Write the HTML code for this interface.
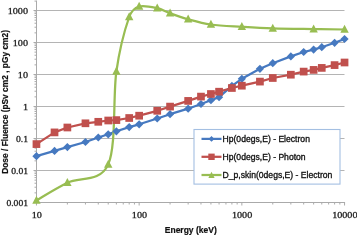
<!DOCTYPE html>
<html><head><meta charset="utf-8"><style>
html,body{margin:0;padding:0;background:#fff;}
svg{display:block;will-change:transform;font-family:"Liberation Sans",sans-serif;}
</style></head><body>
<svg width="357" height="235" viewBox="0 0 357 235">
<line x1="36" y1="10.50" x2="344.5" y2="10.50" stroke="#B4B4B4" stroke-width="1"/>
<line x1="36" y1="42.50" x2="344.5" y2="42.50" stroke="#B4B4B4" stroke-width="1"/>
<line x1="36" y1="74.50" x2="344.5" y2="74.50" stroke="#B4B4B4" stroke-width="1"/>
<line x1="36" y1="106.50" x2="344.5" y2="106.50" stroke="#B4B4B4" stroke-width="1"/>
<line x1="36" y1="138.50" x2="344.5" y2="138.50" stroke="#B4B4B4" stroke-width="1"/>
<line x1="36" y1="170.50" x2="344.5" y2="170.50" stroke="#B4B4B4" stroke-width="1"/>
<line x1="36.5" y1="0.6" x2="36.5" y2="202.50" stroke="#AAAAAA" stroke-width="1"/>
<line x1="33.50" y1="202.50" x2="36.5" y2="202.50" stroke="#AAAAAA" stroke-width="1"/>
<line x1="34.50" y1="192.87" x2="36.5" y2="192.87" stroke="#AAAAAA" stroke-width="1"/>
<line x1="34.50" y1="187.23" x2="36.5" y2="187.23" stroke="#AAAAAA" stroke-width="1"/>
<line x1="34.50" y1="183.23" x2="36.5" y2="183.23" stroke="#AAAAAA" stroke-width="1"/>
<line x1="34.50" y1="180.13" x2="36.5" y2="180.13" stroke="#AAAAAA" stroke-width="1"/>
<line x1="34.50" y1="177.60" x2="36.5" y2="177.60" stroke="#AAAAAA" stroke-width="1"/>
<line x1="34.50" y1="175.46" x2="36.5" y2="175.46" stroke="#AAAAAA" stroke-width="1"/>
<line x1="34.50" y1="173.60" x2="36.5" y2="173.60" stroke="#AAAAAA" stroke-width="1"/>
<line x1="34.50" y1="171.96" x2="36.5" y2="171.96" stroke="#AAAAAA" stroke-width="1"/>
<line x1="33.50" y1="170.50" x2="36.5" y2="170.50" stroke="#AAAAAA" stroke-width="1"/>
<line x1="34.50" y1="160.87" x2="36.5" y2="160.87" stroke="#AAAAAA" stroke-width="1"/>
<line x1="34.50" y1="155.23" x2="36.5" y2="155.23" stroke="#AAAAAA" stroke-width="1"/>
<line x1="34.50" y1="151.23" x2="36.5" y2="151.23" stroke="#AAAAAA" stroke-width="1"/>
<line x1="34.50" y1="148.13" x2="36.5" y2="148.13" stroke="#AAAAAA" stroke-width="1"/>
<line x1="34.50" y1="145.60" x2="36.5" y2="145.60" stroke="#AAAAAA" stroke-width="1"/>
<line x1="34.50" y1="143.46" x2="36.5" y2="143.46" stroke="#AAAAAA" stroke-width="1"/>
<line x1="34.50" y1="141.60" x2="36.5" y2="141.60" stroke="#AAAAAA" stroke-width="1"/>
<line x1="34.50" y1="139.96" x2="36.5" y2="139.96" stroke="#AAAAAA" stroke-width="1"/>
<line x1="33.50" y1="138.50" x2="36.5" y2="138.50" stroke="#AAAAAA" stroke-width="1"/>
<line x1="34.50" y1="128.87" x2="36.5" y2="128.87" stroke="#AAAAAA" stroke-width="1"/>
<line x1="34.50" y1="123.23" x2="36.5" y2="123.23" stroke="#AAAAAA" stroke-width="1"/>
<line x1="34.50" y1="119.23" x2="36.5" y2="119.23" stroke="#AAAAAA" stroke-width="1"/>
<line x1="34.50" y1="116.13" x2="36.5" y2="116.13" stroke="#AAAAAA" stroke-width="1"/>
<line x1="34.50" y1="113.60" x2="36.5" y2="113.60" stroke="#AAAAAA" stroke-width="1"/>
<line x1="34.50" y1="111.46" x2="36.5" y2="111.46" stroke="#AAAAAA" stroke-width="1"/>
<line x1="34.50" y1="109.60" x2="36.5" y2="109.60" stroke="#AAAAAA" stroke-width="1"/>
<line x1="34.50" y1="107.96" x2="36.5" y2="107.96" stroke="#AAAAAA" stroke-width="1"/>
<line x1="33.50" y1="106.50" x2="36.5" y2="106.50" stroke="#AAAAAA" stroke-width="1"/>
<line x1="34.50" y1="96.87" x2="36.5" y2="96.87" stroke="#AAAAAA" stroke-width="1"/>
<line x1="34.50" y1="91.23" x2="36.5" y2="91.23" stroke="#AAAAAA" stroke-width="1"/>
<line x1="34.50" y1="87.23" x2="36.5" y2="87.23" stroke="#AAAAAA" stroke-width="1"/>
<line x1="34.50" y1="84.13" x2="36.5" y2="84.13" stroke="#AAAAAA" stroke-width="1"/>
<line x1="34.50" y1="81.60" x2="36.5" y2="81.60" stroke="#AAAAAA" stroke-width="1"/>
<line x1="34.50" y1="79.46" x2="36.5" y2="79.46" stroke="#AAAAAA" stroke-width="1"/>
<line x1="34.50" y1="77.60" x2="36.5" y2="77.60" stroke="#AAAAAA" stroke-width="1"/>
<line x1="34.50" y1="75.96" x2="36.5" y2="75.96" stroke="#AAAAAA" stroke-width="1"/>
<line x1="33.50" y1="74.50" x2="36.5" y2="74.50" stroke="#AAAAAA" stroke-width="1"/>
<line x1="34.50" y1="64.87" x2="36.5" y2="64.87" stroke="#AAAAAA" stroke-width="1"/>
<line x1="34.50" y1="59.23" x2="36.5" y2="59.23" stroke="#AAAAAA" stroke-width="1"/>
<line x1="34.50" y1="55.23" x2="36.5" y2="55.23" stroke="#AAAAAA" stroke-width="1"/>
<line x1="34.50" y1="52.13" x2="36.5" y2="52.13" stroke="#AAAAAA" stroke-width="1"/>
<line x1="34.50" y1="49.60" x2="36.5" y2="49.60" stroke="#AAAAAA" stroke-width="1"/>
<line x1="34.50" y1="47.46" x2="36.5" y2="47.46" stroke="#AAAAAA" stroke-width="1"/>
<line x1="34.50" y1="45.60" x2="36.5" y2="45.60" stroke="#AAAAAA" stroke-width="1"/>
<line x1="34.50" y1="43.96" x2="36.5" y2="43.96" stroke="#AAAAAA" stroke-width="1"/>
<line x1="33.50" y1="42.50" x2="36.5" y2="42.50" stroke="#AAAAAA" stroke-width="1"/>
<line x1="34.50" y1="32.87" x2="36.5" y2="32.87" stroke="#AAAAAA" stroke-width="1"/>
<line x1="34.50" y1="27.23" x2="36.5" y2="27.23" stroke="#AAAAAA" stroke-width="1"/>
<line x1="34.50" y1="23.23" x2="36.5" y2="23.23" stroke="#AAAAAA" stroke-width="1"/>
<line x1="34.50" y1="20.13" x2="36.5" y2="20.13" stroke="#AAAAAA" stroke-width="1"/>
<line x1="34.50" y1="17.60" x2="36.5" y2="17.60" stroke="#AAAAAA" stroke-width="1"/>
<line x1="34.50" y1="15.46" x2="36.5" y2="15.46" stroke="#AAAAAA" stroke-width="1"/>
<line x1="34.50" y1="13.60" x2="36.5" y2="13.60" stroke="#AAAAAA" stroke-width="1"/>
<line x1="34.50" y1="11.96" x2="36.5" y2="11.96" stroke="#AAAAAA" stroke-width="1"/>
<line x1="33.50" y1="10.50" x2="36.5" y2="10.50" stroke="#AAAAAA" stroke-width="1"/>
<line x1="34.50" y1="1.10" x2="36.5" y2="1.10" stroke="#AAAAAA" stroke-width="1"/>
<line x1="36" y1="202.50" x2="345.05" y2="202.50" stroke="#AAAAAA" stroke-width="1"/>
<line x1="36.45" y1="202.5" x2="36.45" y2="205.5" stroke="#AAAAAA" stroke-width="1"/>
<line x1="67.37" y1="202.5" x2="67.37" y2="204.5" stroke="#AAAAAA" stroke-width="1"/>
<line x1="85.45" y1="202.5" x2="85.45" y2="204.5" stroke="#AAAAAA" stroke-width="1"/>
<line x1="98.28" y1="202.5" x2="98.28" y2="204.5" stroke="#AAAAAA" stroke-width="1"/>
<line x1="108.23" y1="202.5" x2="108.23" y2="204.5" stroke="#AAAAAA" stroke-width="1"/>
<line x1="116.37" y1="202.5" x2="116.37" y2="204.5" stroke="#AAAAAA" stroke-width="1"/>
<line x1="123.24" y1="202.5" x2="123.24" y2="204.5" stroke="#AAAAAA" stroke-width="1"/>
<line x1="129.20" y1="202.5" x2="129.20" y2="204.5" stroke="#AAAAAA" stroke-width="1"/>
<line x1="134.45" y1="202.5" x2="134.45" y2="204.5" stroke="#AAAAAA" stroke-width="1"/>
<line x1="139.15" y1="202.5" x2="139.15" y2="205.5" stroke="#AAAAAA" stroke-width="1"/>
<line x1="170.07" y1="202.5" x2="170.07" y2="204.5" stroke="#AAAAAA" stroke-width="1"/>
<line x1="188.15" y1="202.5" x2="188.15" y2="204.5" stroke="#AAAAAA" stroke-width="1"/>
<line x1="200.98" y1="202.5" x2="200.98" y2="204.5" stroke="#AAAAAA" stroke-width="1"/>
<line x1="210.93" y1="202.5" x2="210.93" y2="204.5" stroke="#AAAAAA" stroke-width="1"/>
<line x1="219.07" y1="202.5" x2="219.07" y2="204.5" stroke="#AAAAAA" stroke-width="1"/>
<line x1="225.94" y1="202.5" x2="225.94" y2="204.5" stroke="#AAAAAA" stroke-width="1"/>
<line x1="231.90" y1="202.5" x2="231.90" y2="204.5" stroke="#AAAAAA" stroke-width="1"/>
<line x1="237.15" y1="202.5" x2="237.15" y2="204.5" stroke="#AAAAAA" stroke-width="1"/>
<line x1="241.85" y1="202.5" x2="241.85" y2="205.5" stroke="#AAAAAA" stroke-width="1"/>
<line x1="272.77" y1="202.5" x2="272.77" y2="204.5" stroke="#AAAAAA" stroke-width="1"/>
<line x1="290.85" y1="202.5" x2="290.85" y2="204.5" stroke="#AAAAAA" stroke-width="1"/>
<line x1="303.68" y1="202.5" x2="303.68" y2="204.5" stroke="#AAAAAA" stroke-width="1"/>
<line x1="313.63" y1="202.5" x2="313.63" y2="204.5" stroke="#AAAAAA" stroke-width="1"/>
<line x1="321.77" y1="202.5" x2="321.77" y2="204.5" stroke="#AAAAAA" stroke-width="1"/>
<line x1="328.64" y1="202.5" x2="328.64" y2="204.5" stroke="#AAAAAA" stroke-width="1"/>
<line x1="334.60" y1="202.5" x2="334.60" y2="204.5" stroke="#AAAAAA" stroke-width="1"/>
<line x1="339.85" y1="202.5" x2="339.85" y2="204.5" stroke="#AAAAAA" stroke-width="1"/>
<line x1="344.55" y1="202.5" x2="344.55" y2="205.5" stroke="#AAAAAA" stroke-width="1"/>
<path d="M36.45,156.20 L54.53,150.90 L67.37,147.10 L85.45,142.00 L98.28,137.50 L108.23,134.30 L116.37,131.30 L129.20,127.10 L139.15,124.30 L157.23,118.50 L170.07,114.20 L188.15,108.70 L200.98,104.00 L210.93,100.20 L219.07,97.20 L231.90,85.90 L241.85,78.80 L259.93,68.80 L272.77,63.20 L290.85,56.40 L303.68,52.00 L313.63,49.60 L321.77,47.20 L334.60,42.80 L344.55,39.00" fill="none" stroke="#4679C0" stroke-width="2.25" stroke-linejoin="round" stroke-linecap="round"/>
<path d="M36.45,144.10 L54.53,132.40 L67.37,127.50 L85.45,123.30 L98.28,121.80 L108.23,120.50 L116.37,120.10 L129.20,118.00 L139.15,115.70 L157.23,110.80 L170.07,106.60 L188.15,100.90 L200.98,96.60 L210.93,94.00 L219.07,91.70 L231.90,88.00 L241.85,85.70 L259.93,81.60 L272.77,78.00 L290.85,74.70 L303.68,71.60 L313.63,69.90 L321.77,67.90 L334.60,65.10 L344.55,62.50" fill="none" stroke="#C0504D" stroke-width="2.25" stroke-linejoin="round" stroke-linecap="round"/>
<path d="M36.45,200.40 C41.60,197.47 55.40,188.80 67.37,182.80 C79.33,176.80 100.07,182.95 108.23,164.40 C116.40,145.85 112.87,96.07 116.37,71.50 C119.86,46.93 125.40,27.83 129.20,17.00 C131.59,10.17 134.48,7.97 139.15,6.50 C143.82,5.03 152.08,7.07 157.23,8.20 C162.39,9.33 164.91,11.45 170.07,13.30 C175.22,15.15 181.34,17.43 188.15,19.30 C194.96,21.17 201.98,23.25 210.93,24.50 C219.88,25.75 231.54,26.15 241.85,26.80 C252.16,27.45 260.80,28.02 272.77,28.40 C284.73,28.78 301.67,28.92 313.63,29.10 C325.60,29.28 339.40,29.43 344.55,29.50" fill="none" stroke="#98BD52" stroke-width="2.25" stroke-linejoin="round" stroke-linecap="round"/>
<path d="M36.45,152.10 L40.55,156.20 L36.45,160.30 L32.35,156.20Z" fill="#4679C0"/>
<path d="M54.53,146.80 L58.63,150.90 L54.53,155.00 L50.43,150.90Z" fill="#4679C0"/>
<path d="M67.37,143.00 L71.47,147.10 L67.37,151.20 L63.27,147.10Z" fill="#4679C0"/>
<path d="M85.45,137.90 L89.55,142.00 L85.45,146.10 L81.35,142.00Z" fill="#4679C0"/>
<path d="M98.28,133.40 L102.38,137.50 L98.28,141.60 L94.18,137.50Z" fill="#4679C0"/>
<path d="M108.23,130.20 L112.33,134.30 L108.23,138.40 L104.13,134.30Z" fill="#4679C0"/>
<path d="M116.37,127.20 L120.47,131.30 L116.37,135.40 L112.27,131.30Z" fill="#4679C0"/>
<path d="M129.20,123.00 L133.30,127.10 L129.20,131.20 L125.10,127.10Z" fill="#4679C0"/>
<path d="M139.15,120.20 L143.25,124.30 L139.15,128.40 L135.05,124.30Z" fill="#4679C0"/>
<path d="M157.23,114.40 L161.33,118.50 L157.23,122.60 L153.13,118.50Z" fill="#4679C0"/>
<path d="M170.07,110.10 L174.17,114.20 L170.07,118.30 L165.97,114.20Z" fill="#4679C0"/>
<path d="M188.15,104.60 L192.25,108.70 L188.15,112.80 L184.05,108.70Z" fill="#4679C0"/>
<path d="M200.98,99.90 L205.08,104.00 L200.98,108.10 L196.88,104.00Z" fill="#4679C0"/>
<path d="M210.93,96.10 L215.03,100.20 L210.93,104.30 L206.83,100.20Z" fill="#4679C0"/>
<path d="M219.07,93.10 L223.17,97.20 L219.07,101.30 L214.97,97.20Z" fill="#4679C0"/>
<path d="M231.90,81.80 L236.00,85.90 L231.90,90.00 L227.80,85.90Z" fill="#4679C0"/>
<path d="M241.85,74.70 L245.95,78.80 L241.85,82.90 L237.75,78.80Z" fill="#4679C0"/>
<path d="M259.93,64.70 L264.03,68.80 L259.93,72.90 L255.83,68.80Z" fill="#4679C0"/>
<path d="M272.77,59.10 L276.87,63.20 L272.77,67.30 L268.67,63.20Z" fill="#4679C0"/>
<path d="M290.85,52.30 L294.95,56.40 L290.85,60.50 L286.75,56.40Z" fill="#4679C0"/>
<path d="M303.68,47.90 L307.78,52.00 L303.68,56.10 L299.58,52.00Z" fill="#4679C0"/>
<path d="M313.63,45.50 L317.73,49.60 L313.63,53.70 L309.53,49.60Z" fill="#4679C0"/>
<path d="M321.77,43.10 L325.87,47.20 L321.77,51.30 L317.67,47.20Z" fill="#4679C0"/>
<path d="M334.60,38.70 L338.70,42.80 L334.60,46.90 L330.50,42.80Z" fill="#4679C0"/>
<path d="M344.55,34.90 L348.65,39.00 L344.55,43.10 L340.45,39.00Z" fill="#4679C0"/>
<rect x="32.60" y="140.25" width="7.70" height="7.70" fill="#C0504D"/>
<rect x="50.68" y="128.55" width="7.70" height="7.70" fill="#C0504D"/>
<rect x="63.52" y="123.65" width="7.70" height="7.70" fill="#C0504D"/>
<rect x="81.60" y="119.45" width="7.70" height="7.70" fill="#C0504D"/>
<rect x="94.43" y="117.95" width="7.70" height="7.70" fill="#C0504D"/>
<rect x="104.38" y="116.65" width="7.70" height="7.70" fill="#C0504D"/>
<rect x="112.52" y="116.25" width="7.70" height="7.70" fill="#C0504D"/>
<rect x="125.35" y="114.15" width="7.70" height="7.70" fill="#C0504D"/>
<rect x="135.30" y="111.85" width="7.70" height="7.70" fill="#C0504D"/>
<rect x="153.38" y="106.95" width="7.70" height="7.70" fill="#C0504D"/>
<rect x="166.22" y="102.75" width="7.70" height="7.70" fill="#C0504D"/>
<rect x="184.30" y="97.05" width="7.70" height="7.70" fill="#C0504D"/>
<rect x="197.13" y="92.75" width="7.70" height="7.70" fill="#C0504D"/>
<rect x="207.08" y="90.15" width="7.70" height="7.70" fill="#C0504D"/>
<rect x="215.22" y="87.85" width="7.70" height="7.70" fill="#C0504D"/>
<rect x="228.05" y="84.15" width="7.70" height="7.70" fill="#C0504D"/>
<rect x="238.00" y="81.85" width="7.70" height="7.70" fill="#C0504D"/>
<rect x="256.08" y="77.75" width="7.70" height="7.70" fill="#C0504D"/>
<rect x="268.92" y="74.15" width="7.70" height="7.70" fill="#C0504D"/>
<rect x="287.00" y="70.85" width="7.70" height="7.70" fill="#C0504D"/>
<rect x="299.83" y="67.75" width="7.70" height="7.70" fill="#C0504D"/>
<rect x="309.78" y="66.05" width="7.70" height="7.70" fill="#C0504D"/>
<rect x="317.92" y="64.05" width="7.70" height="7.70" fill="#C0504D"/>
<rect x="330.75" y="61.25" width="7.70" height="7.70" fill="#C0504D"/>
<rect x="340.70" y="58.65" width="7.70" height="7.70" fill="#C0504D"/>
<path d="M36.45,195.70 L40.65,203.70 L32.25,203.70Z" fill="#98BD52"/>
<path d="M67.37,178.10 L71.57,186.10 L63.17,186.10Z" fill="#98BD52"/>
<path d="M108.23,159.70 L112.43,167.70 L104.03,167.70Z" fill="#98BD52"/>
<path d="M116.37,66.80 L120.57,74.80 L112.17,74.80Z" fill="#98BD52"/>
<path d="M129.20,12.30 L133.40,20.30 L125.00,20.30Z" fill="#98BD52"/>
<path d="M139.15,1.80 L143.35,9.80 L134.95,9.80Z" fill="#98BD52"/>
<path d="M157.23,3.50 L161.43,11.50 L153.03,11.50Z" fill="#98BD52"/>
<path d="M170.07,8.60 L174.27,16.60 L165.87,16.60Z" fill="#98BD52"/>
<path d="M188.15,14.60 L192.35,22.60 L183.95,22.60Z" fill="#98BD52"/>
<path d="M210.93,19.80 L215.13,27.80 L206.73,27.80Z" fill="#98BD52"/>
<path d="M241.85,22.10 L246.05,30.10 L237.65,30.10Z" fill="#98BD52"/>
<path d="M272.77,23.70 L276.97,31.70 L268.57,31.70Z" fill="#98BD52"/>
<path d="M313.63,24.40 L317.83,32.40 L309.43,32.40Z" fill="#98BD52"/>
<path d="M344.55,24.80 L348.75,32.80 L340.35,32.80Z" fill="#98BD52"/>
<rect x="194.0" y="129.5" width="146" height="54.6" fill="#fff" stroke="#A4BFE2" stroke-width="1.1"/>
<line x1="201.5" y1="138.9" x2="221.5" y2="138.9" stroke="#4679C0" stroke-width="2.25"/>
<path d="M211.50,136.00 L214.40,138.90 L211.50,141.80 L208.60,138.90Z" fill="#4679C0"/>
<text x="222.5" y="141.60" font-size="8.6" fill="#111" stroke="#111" stroke-width="0.32">Hp(0degs,E) - Electron</text>
<line x1="201.5" y1="156.8" x2="221.5" y2="156.8" stroke="#C0504D" stroke-width="2.25"/>
<rect x="208.30" y="153.60" width="6.40" height="6.40" fill="#C0504D"/>
<text x="222.5" y="159.50" font-size="8.6" fill="#111" stroke="#111" stroke-width="0.32">Hp(0degs,E) - Photon</text>
<line x1="201.5" y1="175.0" x2="221.5" y2="175.0" stroke="#98BD52" stroke-width="2.25"/>
<path d="M211.50,171.80 L214.60,178.00 L208.40,178.00Z" fill="#98BD52"/>
<text x="222.5" y="177.70" font-size="8.6" fill="#111" stroke="#111" stroke-width="0.32">D_p,skin(0degs,E) - Electron</text>
<text transform="translate(28.0,13.80) scale(1.14,1)" font-family="Liberation Serif" font-size="8.9" text-anchor="end" fill="#1e1e1e" stroke="#1e1e1e" stroke-width="0.3">1000</text>
<text transform="translate(28.0,45.80) scale(1.14,1)" font-family="Liberation Serif" font-size="8.9" text-anchor="end" fill="#1e1e1e" stroke="#1e1e1e" stroke-width="0.3">100</text>
<text transform="translate(28.0,77.80) scale(1.14,1)" font-family="Liberation Serif" font-size="8.9" text-anchor="end" fill="#1e1e1e" stroke="#1e1e1e" stroke-width="0.3">10</text>
<text transform="translate(28.0,109.80) scale(1.14,1)" font-family="Liberation Serif" font-size="8.9" text-anchor="end" fill="#1e1e1e" stroke="#1e1e1e" stroke-width="0.3">1</text>
<text transform="translate(28.0,141.80) scale(1.08,1)" font-family="Liberation Serif" font-size="8.9" text-anchor="end" fill="#1e1e1e" stroke="#1e1e1e" stroke-width="0.3">0.1</text>
<text transform="translate(28.0,173.80) scale(1.08,1)" font-family="Liberation Serif" font-size="8.9" text-anchor="end" fill="#1e1e1e" stroke="#1e1e1e" stroke-width="0.3">0.01</text>
<text transform="translate(28.0,205.80) scale(1.08,1)" font-family="Liberation Serif" font-size="8.9" text-anchor="end" fill="#1e1e1e" stroke="#1e1e1e" stroke-width="0.3">0.001</text>
<text transform="translate(36.70,218.3) scale(1.14,1)" font-family="Liberation Serif" font-size="8.9" text-anchor="middle" fill="#1e1e1e" stroke="#1e1e1e" stroke-width="0.3">10</text>
<text transform="translate(139.40,218.3) scale(1.14,1)" font-family="Liberation Serif" font-size="8.9" text-anchor="middle" fill="#1e1e1e" stroke="#1e1e1e" stroke-width="0.3">100</text>
<text transform="translate(242.10,218.3) scale(1.14,1)" font-family="Liberation Serif" font-size="8.9" text-anchor="middle" fill="#1e1e1e" stroke="#1e1e1e" stroke-width="0.3">1000</text>
<text transform="translate(344.80,218.3) scale(1.14,1)" font-family="Liberation Serif" font-size="8.9" text-anchor="middle" fill="#1e1e1e" stroke="#1e1e1e" stroke-width="0.3">10000</text>
<text x="190.75" y="232.8" font-size="8.5" font-weight="bold" text-anchor="middle" fill="#111" stroke="#111" stroke-width="0.2">Energy (keV)</text>
<text transform="translate(8.2,101.9) rotate(-90)" font-size="8.4" font-weight="bold" text-anchor="middle" fill="#111" stroke="#111" stroke-width="0.2">Dose / Fluence (pSv cm2 , pGy cm2)</text>
</svg>
</body></html>
